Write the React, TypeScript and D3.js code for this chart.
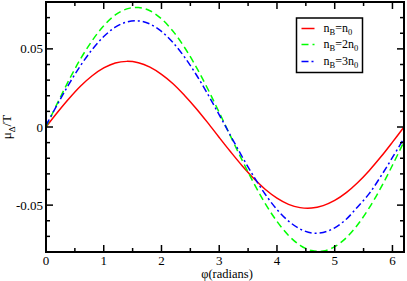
import React from 'react';
import * as d3 from 'd3';

// phi (radians) sample points
const phi = [
  0, 0.2, 0.4, 0.6, 0.8, 1.0, 1.2, 1.4, 1.6, 1.8, 2.0, 2.2, 2.4, 2.6, 2.8, 3.0,
  3.2, 3.4, 3.6, 3.8, 4.0, 4.2, 4.4, 4.6, 4.8, 5.0, 5.2, 5.4, 5.6, 5.8, 6.0, 6.2,
];

// mu_Delta / T for n_B = n_0
const muN1 = [
  0, 0.0094, 0.0182, 0.0262, 0.0328, 0.0378, 0.0410, 0.0420, 0.0411, 0.0383, 0.0337,
  0.0277, 0.0202, 0.0119, 0.0028, -0.0067, -0.0160, -0.0249, -0.0330, -0.0400,
  -0.0455, -0.0495, -0.0516, -0.0519, -0.0503, -0.0470, -0.0420, -0.0355, -0.0278,
  -0.0191, -0.0097, 0,
];

// mu_Delta / T for n_B = 2 n_0
const muN2 = [
  0, 0.0154, 0.0302, 0.0437, 0.0553, 0.0648, 0.0717, 0.0756, 0.0765, 0.0744, 0.0692,
  0.0613, 0.0509, 0.0385, 0.0245, 0.0093, -0.0062, -0.0215, -0.0360, -0.0492,
  -0.0604, -0.0694, -0.0757, -0.0791, -0.0794, -0.0766, -0.0709, -0.0624, -0.0516,
  -0.0388, -0.0245, -0.0093,
];

// mu_Delta / T for n_B = 3 n_0
const muN3 = [
  0.001, 0.0146, 0.0276, 0.0394, 0.0496, 0.0579, 0.0639, 0.0672, 0.0679, 0.0659,
  0.0612, 0.0540, 0.0447, 0.0336, 0.0211, 0.0078, -0.0058, -0.0192, -0.0318, -0.0432,
  -0.0528, -0.0602, -0.0653, -0.0678, -0.0675, -0.0645, -0.0590, -0.0510, -0.0425,
  -0.0315, -0.0195, -0.0072,
];

const xTicks = [0, 1, 2, 3, 4, 5, 6];
const yTicks = [-0.05, 0, 0.05];
const yTickLabels = ['-0.05', '0', '0.05'];
const seriesNames = ['n_B=n_0', 'n_B=2n_0', 'n_B=3n_0'];

const W = 407;
const H = 281;
const margin = { top: 2, right: 3, bottom: 29, left: 46 };
const serif = "'Liberation Serif', 'DejaVu Serif', serif";

export default function App() {
  const innerW = W - margin.left - margin.right;
  const innerH = H - margin.top - margin.bottom;

  const x = d3.scaleLinear().domain([0, 6.2]).range([0, innerW]);
  const y = d3.scaleLinear().domain([-0.08, 0.08]).range([innerH, 0]);

  const line = d3
    .line<number>()
    .x((_, i) => x(phi[i]))
    .y((d) => y(d))
    .curve(d3.curveCatmullRom);

  const series = [
    { values: muN1, color: '#ff0000', dash: undefined },
    { values: muN2, color: '#00ff00', dash: '7,4' },
    { values: muN3, color: '#0000ff', dash: '7,3,2,3' },
  ];

  const xMinor = d3.range(0, 6.2001, 0.5).filter((v) => Math.abs(v - Math.round(v)) > 0.01);
  const yMinor = d3
    .range(-8, 9)
    .map((v) => v / 100)
    .filter((v) => Math.abs(v) > 1e-9 && Math.abs(Math.abs(v) - 0.05) > 1e-9);

  const major = 7;
  const minor = 4;

  // legend row centres, relative to the legend box
  const legendRows = [10.5, 26.5, 43.5];

  const renderSub = (label: string) => {
    const m = label.match(/^n_B=(.*)n_0$/)!;
    return (
      <>
        <tspan>n</tspan>
        <tspan fontSize={8.5} dy={3}>B</tspan>
        <tspan dy={-3}>{'=' + m[1] + 'n'}</tspan>
        <tspan fontSize={8.5} dy={3}>0</tspan>
      </>
    );
  };

  return (
    <div style={{ position: 'absolute', left: 0, top: 0 }}>
      <svg width={W} height={H} style={{ display: 'block', background: '#fff', fontFamily: serif }}>
        <g transform={`translate(${margin.left},${margin.top})`}>
          <defs>
            <clipPath id="plotClip">
              <rect x={0} y={0} width={innerW} height={innerH} />
            </clipPath>
          </defs>

          {/* curves */}
          <g clipPath="url(#plotClip)">
            {series.map((s, i) => (
              <path
                key={i}
                d={line(s.values) ?? ''}
                fill="none"
                stroke={s.color}
                strokeWidth={1.5}
                strokeDasharray={s.dash}
              />
            ))}
          </g>

          {/* ticks, inward on all sides */}
          <g stroke="#000" strokeWidth={1.5}>
            {xTicks.map((t) => (
              <g key={'xt' + t}>
                <line x1={x(t)} x2={x(t)} y1={innerH} y2={innerH - major} />
                <line x1={x(t)} x2={x(t)} y1={0} y2={major} />
              </g>
            ))}
            {xMinor.map((t) => (
              <g key={'xm' + t}>
                <line x1={x(t)} x2={x(t)} y1={innerH} y2={innerH - minor} />
                <line x1={x(t)} x2={x(t)} y1={0} y2={minor} />
              </g>
            ))}
            {yTicks.map((t) => (
              <g key={'yt' + t}>
                <line x1={0} x2={major} y1={y(t)} y2={y(t)} />
                <line x1={innerW} x2={innerW - major} y1={y(t)} y2={y(t)} />
              </g>
            ))}
            {yMinor.map((t) => (
              <g key={'ym' + t}>
                <line x1={0} x2={minor} y1={y(t)} y2={y(t)} />
                <line x1={innerW} x2={innerW - minor} y1={y(t)} y2={y(t)} />
              </g>
            ))}
          </g>

          {/* frame */}
          <rect x={0} y={0} width={innerW} height={innerH} fill="none" stroke="#000" strokeWidth={2} />

          {/* tick labels */}
          {xTicks.map((t) => (
            <text key={'xl' + t} x={x(t)} y={innerH + 12.5} textAnchor="middle" fontSize={13}>
              {t}
            </text>
          ))}
          {yTicks.map((t, i) => (
            <text key={'yl' + t} x={-3} y={y(t) + 4.5} textAnchor="end" fontSize={13}>
              {yTickLabels[i]}
            </text>
          ))}

          {/* axis labels */}
          <text x={innerW / 2 + 2} y={innerH + 25.5} textAnchor="middle" fontSize={12.5}>
            φ(radians)
          </text>
          <text transform={`translate(${-35},${innerH / 2}) rotate(-90)`} textAnchor="middle" fontSize={13}>
            <tspan>μ</tspan>
            <tspan fontSize={9} dy={3.5}>Δ</tspan>
            <tspan dy={-3.5}>/T</tspan>
          </text>

          {/* legend */}
          <g transform={`translate(${296.5 - margin.left},${18 - margin.top})`}>
            <rect x={0} y={0} width={66} height={54.5} fill="#fff" stroke="#000" strokeWidth={1.5} />
            {series.map((s, i) => (
              <g key={'lg' + i}>
                <line
                  x1={5}
                  x2={18}
                  y1={legendRows[i]}
                  y2={legendRows[i]}
                  stroke={s.color}
                  strokeWidth={1.5}
                  strokeDasharray={s.dash}
                />
                <text x={27} y={legendRows[i] + 3} fontSize={12}>
                  {renderSub(seriesNames[i])}
                </text>
              </g>
            ))}
          </g>
        </g>
      </svg>
    </div>
  );
}
